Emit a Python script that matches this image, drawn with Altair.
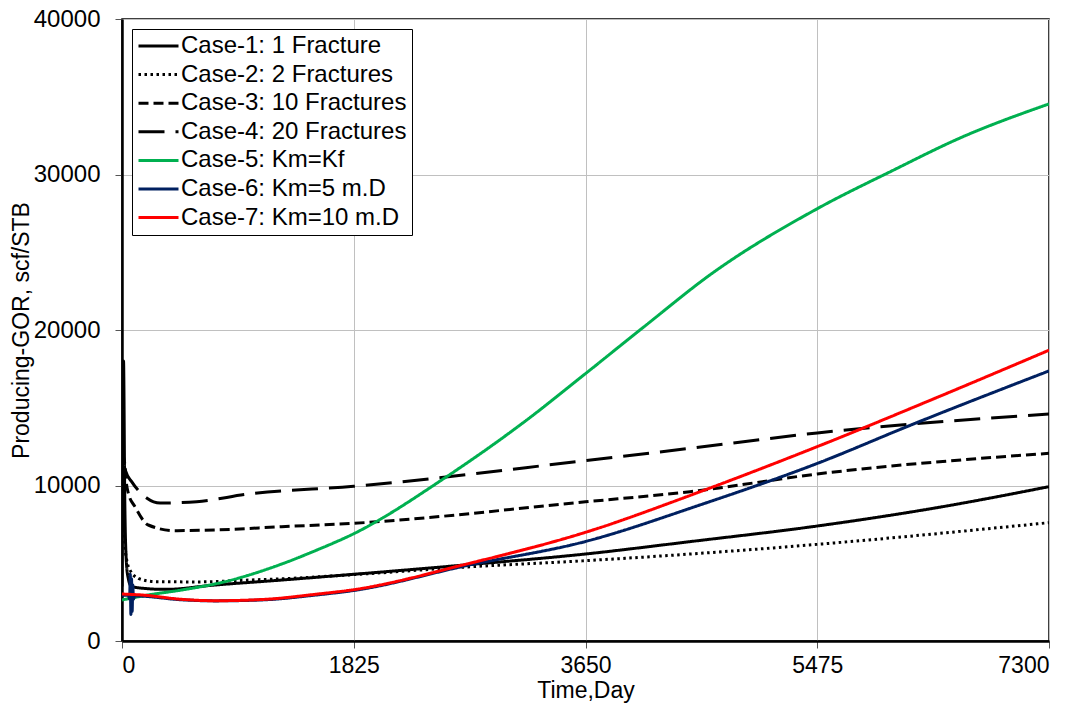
import altair as alt
import pandas as pd

names = ["Case-1: 1 Fracture", "Case-2: 2 Fractures", "Case-3: 10 Fractures",
         "Case-4: 20 Fractures", "Case-5: Km=Kf", "Case-6: Km=5 m.D", "Case-7: Km=10 m.D"]
colors = ["#000000", "#000000", "#000000", "#000000", "#00b050", "#002060", "#ff0000"]
dashes = [[1, 0], [2.5, 3.5], [10, 5], [26, 11], [1, 0], [1, 0], [1, 0]]

c1_day = [0, 12, 22, 35, 50, 70, 102, 339, 732, 1257, 1825, 2714, 3650, 4473, 5475, 6400, 7300]
c1_val = [3500, 18000, 9000, 5000, 4000, 3550, 3450, 3320, 3600, 3920, 4290, 4900, 5595, 6390, 7395, 8550, 9925]

c2_day = [0, 8, 24, 40, 63, 129, 260, 601, 995, 1257, 1825, 2714, 3650, 4552, 5475, 7300]
c2_val = [13000, 9500, 6060, 5100, 4566, 4030, 3815, 3800, 3920, 4000, 4270, 4760, 5165, 5638, 6215, 7610]

c3_day = [2, 10, 20, 37, 50, 102, 207, 417, 732, 1257, 1825, 3650, 4473, 5475, 7300]
c3_val = [13000, 12000, 11500, 10000, 9500, 8640, 7460, 7095, 7140, 7350, 7570, 8950, 9600, 10740, 12070]

c4_day = [2, 10, 30, 76, 194, 300, 588, 995, 1825, 3650, 4473, 5475, 7300]
c4_val = [13500, 12000, 10900, 10250, 9200, 8870, 8960, 9450, 9950, 11600, 12390, 13380, 14600]

c5_day = [0, 207, 470, 811, 1257, 1520, 1825, 2557, 3187, 3650, 4108, 4643, 5475, 6070, 6600, 7300]
c5_val = [2640, 2960, 3280, 3815, 4950, 5800, 6900, 10570, 14210, 17195, 20190, 23620, 27800, 30260, 32350, 34540]

c6_day = [0, 50, 60, 65, 70, 75, 80, 85, 90, 100, 470, 732, 1126, 1520, 1825, 2714, 3650, 4552, 5475, 6240, 7300]
c6_val = [2950, 2950, 2700, 4300, 1700, 4000, 1900, 3600, 2700, 2900, 2650, 2580, 2650, 2950, 3250, 4850, 6400, 8750, 11420, 13980, 17370]

c7_day = [0, 155, 470, 732, 1126, 1520, 1825, 2714, 3650, 4552, 5475, 6400, 7300]
c7_val = [3020, 2960, 2680, 2590, 2680, 3000, 3300, 4950, 6990, 9600, 12500, 15600, 18700]

x_ticks = [0, 1825, 3650, 5475, 7300]
y_ticks = [0, 10000, 20000, 30000, 40000]

series = [(c1_day, c1_val), (c2_day, c2_val), (c3_day, c3_val), (c4_day, c4_val),
          (c5_day, c5_val), (c6_day, c6_val), (c7_day, c7_val)]
rows = []
for i, (ds, vs) in enumerate(series):
    for j, (d, v) in enumerate(zip(ds, vs)):
        rows.append({"series": names[i], "order": i, "idx": j, "day": d, "gor": v})
df = pd.DataFrame(rows)

FONT = "Liberation Sans"

chart = alt.Chart(df).mark_line(strokeWidth=3, clip=True, interpolate="monotone").encode(
    x=alt.X("day:Q", scale=alt.Scale(domain=[0, 7300], nice=False),
            axis=alt.Axis(values=x_ticks, title="Time,Day", format="d")),
    y=alt.Y("gor:Q", scale=alt.Scale(domain=[0, 40000], nice=False),
            axis=alt.Axis(values=y_ticks, title="Producing-GOR, scf/STB", format="d",
                          labelFontSize=24,
                          titleX=-101, titleY=311, titleAlign="center", titleBaseline="middle")),
    color=alt.Color("series:N", scale=alt.Scale(domain=names, range=colors),
                    legend=alt.Legend(title=None, orient="top-left", offset=10)),
    strokeDash=alt.StrokeDash("series:N", scale=alt.Scale(domain=names, range=dashes),
                              legend=alt.Legend(title=None, orient="top-left", offset=10)),
    order=alt.Order("idx:Q"),
    detail="series:N",
).properties(
    width=927, height=622,
    autosize=alt.AutoSizeParams(type="none"),
    padding={"left": 122, "top": 19, "right": 34, "bottom": 75},
).configure_view(
    stroke="#000000", strokeWidth=1.5
).configure_axis(
    labelFont=FONT, labelFontSize=23, labelColor="#000000",
    titleFont=FONT, titleFontSize=23, titleColor="#000000", titleFontWeight="normal",
    domainColor="#000000", domainWidth=2.5,
    tickColor="#555555", tickSize=7, tickWidth=1,
    gridColor="#c0c0c0", gridWidth=1,
).configure_axisX(
    labelPadding=6, titlePadding=2
).configure_axisY(
    labelPadding=15
).configure_legend(
    labelFont=FONT, labelFontSize=24, labelColor="#000000",
    symbolType="stroke", symbolSize=1600, symbolStrokeWidth=3,
    clipHeight=24, rowPadding=4.6, padding=5, labelOffset=1,
    strokeColor="#000000", fillColor="#ffffff", cornerRadius=0, labelLimit=400,
)

chart.save("out.html", embed_options={"renderer": "svg", "actions": False})
